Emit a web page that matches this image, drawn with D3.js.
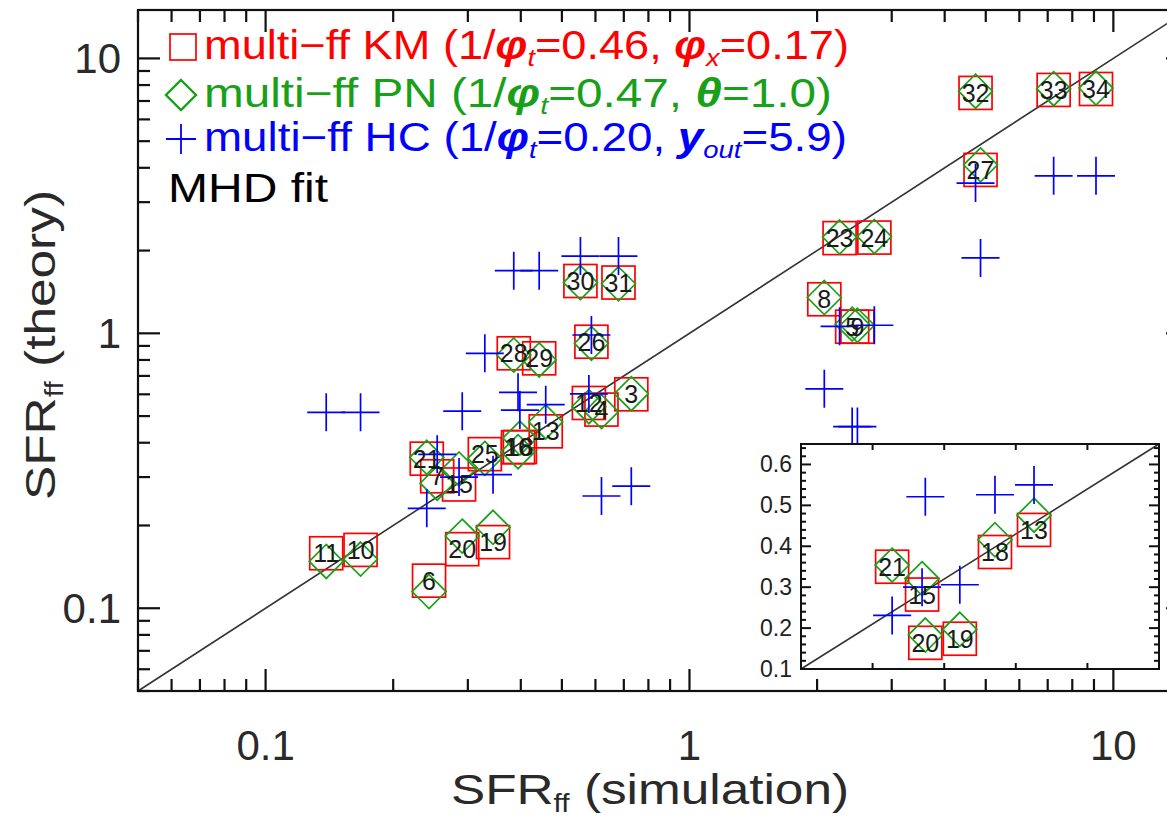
<!DOCTYPE html>
<html><head><meta charset="utf-8">
<script src="https://cdn.jsdelivr.net/npm/d3@7"></script>
<style>
body{margin:0;background:#fff}
svg{display:block}
text{font-family:"Liberation Sans",Arial,sans-serif}
</style>
</head><body>
<svg id="c" width="1167" height="816"></svg>
<script>
// ---- data ----
const simIds  = ["11","10","6","21","7","15","20","19","25","16","18","28","13","29","30","26","12","4","31","3","8","23","5","9","24","32","27","33","34"];
const sfrSim  = [0.139,0.1675,0.243,0.240,0.254,0.286,0.291,0.344,0.329,0.394,0.398,0.385,0.458,0.442,0.553,0.587,0.579,0.62,0.68,0.729,2.08,2.26,2.42,2.49,2.73,4.73,4.86,7.23,9.10];
const sfrKM   = [0.1585,0.163,0.126,0.35,0.302,0.282,0.164,0.174,0.3635,0.385,0.386,0.846,0.44,0.811,1.55,0.932,0.558,0.528,1.53,0.600,1.33,2.22,1.057,1.057,2.23,7.49,3.93,7.68,7.74];
const sfrPN   = [0.148,0.151,0.115,0.354,0.285,0.321,0.183,0.197,0.351,0.371,0.416,0.834,0.476,0.80,1.53,0.919,0.541,0.519,1.515,0.603,1.35,2.24,1.08,1.07,2.25,7.6,4.10,7.76,7.8];
const sfrHC   = [0.516,0.516,null,0.231,0.363,0.30,0.521,0.306,0.846,0.61,0.526,1.69,0.55,1.69,1.91,0.986,0.602,0.256,1.91,0.278,0.628,1.06,0.458,0.458,1.07,3.52,1.88,3.74,3.74];
const insetIds = ["21","15","20","19","18","13"];
const xTickVals = [0.1,1,10];
const yTickVals = [0.1,1,10];
const insetYTicks = [0.1,0.2,0.3,0.4,0.5,0.6];

const legendLines = [
  {color:"#ff0000", sym:"square", segs:[["multi\u2212ff KM (1/"],["\u03c6","it"],["t","sub"],["=0.46, "],["\u03c6","it"],["x","sub"],["=0.17)"]], len:645},
  {color:"#19a019", sym:"diamond", segs:[["multi\u2212ff PN (1/"],["\u03c6","it"],["t","sub"],["=0.47, "],["\u03b8","it"],["=1.0)"]], len:628},
  {color:"#0000ff", sym:"plus", segs:[["multi\u2212ff HC (1/"],["\u03c6","it"],["t","sub"],["=0.20, "],["y","it"],["out","sub"],["=5.9)"]], len:643},
  {color:"#000000", sym:null, segs:[["MHD fit"]], len:160}
];

const points = simIds.map((id,i)=>({id, x:sfrSim[i], km:sfrKM[i], pn:sfrPN[i], hc:sfrHC[i]}));

const svg = d3.select("#c");
const M = {l:138, r:1188, t:10, b:691};
const x = d3.scaleLog().domain([0.05,15]).range([M.l, M.r]);
const y = d3.scaleLog().domain([0.05,15]).range([M.b, M.t]);

const RED="#ff0000", GREEN="#19a019", BLUE="#0000ff";
const SQ=16.5, DI=17, PL=19;

function drawMarks(g, pts, xs, ys){
  g.selectAll("rect.km").data(pts).join("rect").attr("class","km")
    .attr("x",d=>xs(d.x)-SQ).attr("y",d=>ys(d.km)-SQ).attr("width",2*SQ).attr("height",2*SQ)
    .attr("fill","none").attr("stroke",RED).attr("stroke-width",1.7);
  g.selectAll("path.pn").data(pts).join("path").attr("class","pn")
    .attr("d",d=>{const cx=xs(d.x), cy=ys(d.pn);return `M${cx},${cy-DI}L${cx+DI},${cy}L${cx},${cy+DI}L${cx-DI},${cy}Z`;})
    .attr("fill","none").attr("stroke",GREEN).attr("stroke-width",1.7);
  g.selectAll("path.hc").data(pts.filter(d=>d.hc!=null)).join("path").attr("class","hc")
    .attr("d",d=>{const cx=xs(d.x), cy=ys(d.hc);return `M${cx-PL},${cy}H${cx+PL}M${cx},${cy-PL}V${cy+PL}`;})
    .attr("fill","none").attr("stroke",BLUE).attr("stroke-width",1.7);
  g.selectAll("text.lab").data(pts).join("text").attr("class","lab")
    .attr("x",d=>xs(d.x)).attr("y",d=>ys(d.km)+9)
    .attr("text-anchor","middle").attr("font-size",25).attr("fill","#1a1a1a")
    .text(d=>d.id);
}

// diagonal
svg.append("line").attr("x1",x(0.05)).attr("y1",y(0.05)).attr("x2",x(15)).attr("y2",y(15))
  .attr("stroke","#333").attr("stroke-width",1.6);

const gm = svg.append("g");
drawMarks(gm, points, x, y);

// main frame + ticks
const axG = svg.append("g").attr("stroke","#111").attr("stroke-width",2.2);
axG.append("rect").attr("x",M.l).attr("y",M.t).attr("width",M.r-M.l).attr("height",M.b-M.t).attr("fill","none");
const minors = [];
[0.01,0.1,1,10].forEach(dec=>{for(let k=1;k<10;k++){const v=dec*k; if(v>=0.05&&v<=15) minors.push(v);}});
minors.forEach(v=>{
  const major = xTickVals.includes(v);
  const L = major?22:12;
  const px=x(v), py=y(v);
  axG.append("line").attr("x1",px).attr("x2",px).attr("y1",M.b).attr("y2",M.b-L);
  axG.append("line").attr("x1",px).attr("x2",px).attr("y1",M.t).attr("y2",M.t+L);
  axG.append("line").attr("y1",py).attr("y2",py).attr("x1",M.l).attr("x2",M.l+L);
  axG.append("line").attr("y1",py).attr("y2",py).attr("x1",M.r).attr("x2",M.r-L);
});
const fmt = v => String(v);
svg.append("g").selectAll("text").data(xTickVals).join("text")
  .attr("x",d=>x(d)).attr("y",760).attr("text-anchor","middle").attr("font-size",42).attr("fill","#2a2a2a").text(fmt);
svg.append("g").selectAll("text").data(yTickVals).join("text")
  .attr("x",121).attr("y",d=>y(d)+15).attr("text-anchor","end").attr("font-size",42).attr("fill","#2a2a2a").text(fmt);

// axis titles
const xt = svg.append("text").attr("x",650).attr("y",804).attr("text-anchor","middle").attr("font-size",43).attr("fill","#2a2a2a")
  .attr("textLength",398).attr("lengthAdjust","spacingAndGlyphs");
xt.append("tspan").text("SFR");
xt.append("tspan").attr("font-size",25).attr("dy",8).text("ff");
xt.append("tspan").attr("dy",-8).text(" (simulation)");
const yt = svg.append("text").attr("transform","translate(55,345) rotate(-90)").attr("text-anchor","middle").attr("font-size",43).attr("fill","#2a2a2a")
  .attr("textLength",310).attr("lengthAdjust","spacingAndGlyphs");
yt.append("tspan").text("SFR");
yt.append("tspan").attr("font-size",25).attr("dy",8).text("ff");
yt.append("tspan").attr("dy",-8).text(" (theory)");

// legend
const LY=[59,107,151,202];
legendLines.forEach((ln,i)=>{
  const by = LY[i];
  const cy = by-12;
  if(ln.sym==="square") svg.append("rect").attr("x",170).attr("y",cy-13).attr("width",26).attr("height",26).attr("fill","none").attr("stroke",ln.color).attr("stroke-width",1.7);
  if(ln.sym==="diamond") svg.append("path").attr("d",`M181,${cy-15}L196,${cy}L181,${cy+15}L166,${cy}Z`).attr("fill","none").attr("stroke",ln.color).attr("stroke-width",2.4);
  if(ln.sym==="plus") svg.append("path").attr("d",`M166,${cy}H196M181,${cy-15}V${cy+15}`).attr("fill","none").attr("stroke",ln.color).attr("stroke-width",1.8);
  const t = svg.append("text").attr("x", ln.sym?204:168).attr("y",by).attr("font-size",40).attr("fill",ln.color)
    .attr("textLength",ln.len).attr("lengthAdjust","spacingAndGlyphs");
  let shifted=false;
  ln.segs.forEach(([s,st])=>{
    const sp = t.append("tspan").text(s);
    if(st==="sub"){sp.attr("font-size",24).attr("font-style","italic").attr("dy",7); shifted=true;}
    else { if(shifted){sp.attr("dy",-7); shifted=false;} if(st==="it") sp.attr("font-style","italic").attr("font-weight","bold"); }
  });
});

// inset
const I = {l:801, r:1159, t:444, b:669};
const ix = d3.scaleLinear().domain([0.1,0.65]).range([I.l,I.r]);
const iy = d3.scaleLinear().domain([0.1,0.65]).range([I.b,I.t]);
svg.append("rect").attr("x",I.l).attr("y",I.t).attr("width",I.r-I.l).attr("height",I.b-I.t).attr("fill","#fff");
svg.append("line").attr("x1",ix(0.1)).attr("y1",iy(0.1)).attr("x2",ix(0.65)).attr("y2",iy(0.65)).attr("stroke","#333").attr("stroke-width",1.6);
const gi = svg.append("g");
drawMarks(gi, points.filter(d=>insetIds.includes(d.id)), ix, iy);
const iax = svg.append("g").attr("stroke","#111").attr("stroke-width",2);
iax.append("rect").attr("x",I.l).attr("y",I.t).attr("width",I.r-I.l).attr("height",I.b-I.t).attr("fill","none");
d3.range(0.1,0.651,0.02).forEach(v=>{
  const py=iy(v); const major = Math.abs(Math.round(v*10)-v*10)<1e-6; const L=major?10:5;
  iax.append("line").attr("x1",I.l).attr("x2",I.l+L).attr("y1",py).attr("y2",py);
  iax.append("line").attr("x1",I.r).attr("x2",I.r-L).attr("y1",py).attr("y2",py);
});
d3.range(1,5).forEach(k=>{
  const px = I.l + k*(I.r-I.l)/5;
  iax.append("line").attr("x1",px).attr("x2",px).attr("y1",I.b).attr("y2",I.b-6);
  iax.append("line").attr("x1",px).attr("x2",px).attr("y1",I.t).attr("y2",I.t+6);
});
svg.append("g").selectAll("text").data(insetYTicks).join("text")
  .attr("x",792).attr("y",d=>iy(d)+8).attr("text-anchor","end").attr("font-size",23).attr("fill","#222").text(d=>d.toFixed(1));
</script>
</body></html>
